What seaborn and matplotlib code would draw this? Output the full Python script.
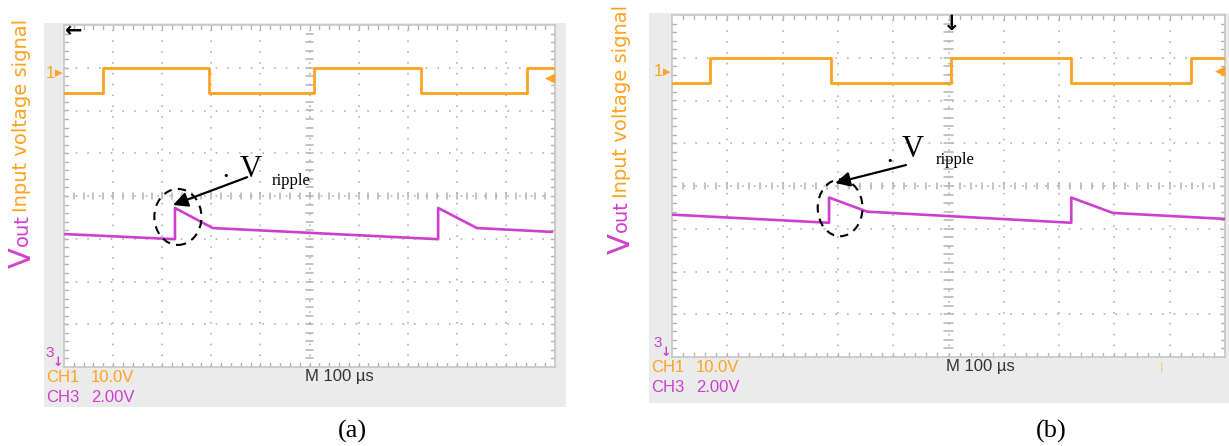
import numpy as np
import pandas as pd
import matplotlib
matplotlib.use("Agg")
import matplotlib.pyplot as plt
from matplotlib.patches import Rectangle, Ellipse
import seaborn as sns

# ---- captured waveforms, in graticule divisions (x: 0..10, y: 0..8) ----
ch1_levels = [6.4, 7.0]                      # low / high level of CH1 gate signal
ch1_edges_a = [0.79, 2.95, 5.09, 7.27, 9.43]  # switching instants, panel (a)
ch1_edges_b = [0.69, 2.88, 5.05, 7.22, 9.39]  # switching instants, panel (b)

ch3_t_a = [0.0, 2.26, 2.26, 3.03, 7.62, 7.62, 8.41, 9.94]
ch3_v_a = [3.11, 2.99, 3.72, 3.25, 2.99, 3.72, 3.25, 3.16]
ch3_t_b = [0.0, 2.84, 2.84, 3.53, 7.22, 7.22, 7.97, 10.0]
ch3_v_b = [3.33, 3.14, 3.73, 3.40, 3.14, 3.73, 3.37, 3.23]

panel_labels = ["(a)", "(b)"]
ch1_scale, ch3_scale, timebase = "10.0V", "2.00V", "M 100 \u00b5s"

ORANGE = "#ffa21f"
MAGENTA = "#cf3fcf"
GRID = "#b3b3b3"
BEZEL = "#ebebeb"
SYM = ["DejaVu Sans"]

W, H = 1229, 446


def fx(px):
    return px / W


def fy(py):
    return 1 - py / H


def square_wave(edges, levels, t_end=10.0):
    xs, ys, state = [0.0], [levels[0]], 0
    for e in edges:
        xs += [e, e]
        ys += [levels[state], levels[1 - state]]
        state = 1 - state
    xs.append(t_end)
    ys.append(levels[state])
    return pd.DataFrame({"t": xs, "v": ys})


sns.set_theme(style="white")
plt.rcParams["font.family"] = ["DejaVu Sans"]
fig = plt.figure(figsize=(W / 100, H / 100), dpi=100)

panels = [
    dict(box=(44, 23, 566, 407), screen=(64, 25, 555, 367),
         edges=ch1_edges_a, t=ch3_t_a, v=ch3_v_a,
         ell=(2.32, 3.51, 0.96, 1.31), arr=((3.73, 4.44), (2.22, 3.79)),
         dot=(3.29, 4.47), vtxt=(3.8, 4.62), rip=(4.24, 4.35),
         ylab_x=22, ylab_y=(268, 246, 212), one_y=73, right_y=78,
         top_mark=("left", 0.1), meas_x=305, lab_x=338, tick_x=None),
    dict(box=(649, 13, 1240, 403), screen=(672, 15, 1225, 357),
         edges=ch1_edges_b, t=ch3_t_b, v=ch3_v_b,
         ell=(3.04, 3.49, 0.81, 1.33), arr=((4.23, 4.49), (2.95, 4.07)),
         dot=(3.94, 4.58), vtxt=(4.36, 4.85), rip=(4.77, 4.6),
         ylab_x=621, ylab_y=(254, 232, 198), one_y=72, right_y=71,
         top_mark=("down", 5.05), meas_x=946, lab_x=1036, tick_x=1161),
]

for idx, p in enumerate(panels):
    bx0, by0, bx1, by1 = p["box"]
    fig.patches.append(Rectangle((fx(bx0), fy(by1)), fx(bx1) - fx(bx0), fy(by0) - fy(by1),
                                 transform=fig.transFigure, facecolor=BEZEL,
                                 edgecolor="none", zorder=-5))
    sx0, sy0, sx1, sy1 = p["screen"]
    ax = fig.add_axes([fx(sx0), fy(sy1), fx(sx1) - fx(sx0), fy(sy0) - fy(sy1)])
    ax.set_zorder(2)
    ax.set_facecolor("white")
    ax.set_xlim(0, 10)
    ax.set_ylim(0, 8)
    ax.set_xticks([])
    ax.set_yticks([])
    for s in ax.spines.values():
        s.set_color("#c6c6c6")
        s.set_linewidth(1.2)

    # graticule: dotted division lines
    for gx in range(1, 10):
        ax.axvline(gx, color=GRID, lw=1.2, dashes=(1.0, 5.5), zorder=1)
    for gy in range(1, 8):
        ax.axhline(gy, color=GRID, lw=1.2, dashes=(1.0, 6.0), zorder=1)
    # minor ticks along the borders and the centre cross
    for m in np.arange(0.2, 10, 0.2):
        ax.plot([m, m], [0, 0.1], color=GRID, lw=1, zorder=1)
        ax.plot([m, m], [8, 7.9], color=GRID, lw=1, zorder=1)
        ax.plot([m, m], [3.92, 4.08], color=GRID, lw=1.1, zorder=1)
    for m in np.arange(0.2, 8, 0.2):
        ax.plot([0, 0.08], [m, m], color=GRID, lw=1, zorder=1)
        ax.plot([10, 9.92], [m, m], color=GRID, lw=1, zorder=1)
        ax.plot([4.92, 5.08], [m, m], color=GRID, lw=1.1, zorder=1)

    # traces
    sq = square_wave(p["edges"], ch1_levels)
    sns.lineplot(data=sq, x="t", y="v", ax=ax, color=ORANGE, lw=2.0,
                 estimator=None, sort=False, zorder=3)
    rip = pd.DataFrame({"t": p["t"], "v": p["v"]})
    sns.lineplot(data=rip, x="t", y="v", ax=ax, color=MAGENTA, lw=1.9,
                 estimator=None, sort=False, zorder=3)
    ax.set_xlabel("")
    ax.set_ylabel("")

    # ripple annotation
    ex, ey, ew, eh = p["ell"]
    ax.add_patch(Ellipse((ex, ey), ew, eh, fill=False, edgecolor="black",
                         lw=1.5, linestyle=(0, (4, 3)), zorder=5))
    ax.annotate("", xy=p["arr"][1], xytext=p["arr"][0],
                arrowprops=dict(arrowstyle="-|>", color="black", lw=1.6,
                                mutation_scale=22, shrinkA=0, shrinkB=0), zorder=6)
    ax.text(*p["dot"], "\u2022", fontsize=8, color="black", ha="center", va="center",
            zorder=6, family=SYM)
    ax.text(*p["vtxt"], "V", fontsize=22, family="Liberation Serif", color="black",
            ha="center", va="center", zorder=6)
    ax.text(*p["rip"], "ripple", fontsize=12, family="Liberation Serif", color="black",
            ha="left", va="center", zorder=6)

    # channel / reference markers
    fig.text(fx(sx0 - 14), fy(p["one_y"]), "1", color=ORANGE, fontsize=12,
             ha="center", va="center", family="Liberation Sans")
    fig.text(fx(sx0 - 5), fy(p["one_y"]), "\u25b8", color=ORANGE, fontsize=11,
             ha="center", va="center", family=SYM)
    fig.text(fx(sx1 - 5), fy(p["right_y"]), "\u25c2", color=ORANGE, fontsize=15,
             ha="center", va="center", family=SYM)
    fig.text(fx(sx0 - 14), fy(sy1 - 14), "3", color=MAGENTA, fontsize=11,
             ha="center", va="center", family="Liberation Sans")
    fig.text(fx(sx0 - 6), fy(sy1 - 4), "\u2193", color=MAGENTA, fontsize=9,
             ha="center", va="center", family=SYM, weight="bold")
    kind, pos = p["top_mark"]
    if kind == "left":
        fig.text(fx(sx0 + 10), fy(sy0 + 6), "\u2190", color="black", fontsize=15,
                 ha="center", va="center", weight="bold", family=SYM)
    else:
        ax.text(pos, 7.78, "\u2193", color="black", fontsize=15, ha="center",
                va="center", weight="bold", family=SYM)

    # readout bar
    fig.text(fx(bx0 + 2), fy(sy1 + 10), "CH1", color=ORANGE, fontsize=12,
             ha="left", va="center", family="Liberation Sans")
    fig.text(fx(bx0 + 47), fy(sy1 + 10), ch1_scale, color=ORANGE, fontsize=12,
             ha="left", va="center", family="Liberation Sans")
    fig.text(fx(bx0 + 2), fy(sy1 + 30), "CH3", color=MAGENTA, fontsize=12,
             ha="left", va="center", family="Liberation Sans")
    fig.text(fx(bx0 + 47), fy(sy1 + 30), ch3_scale, color=MAGENTA, fontsize=12,
             ha="left", va="center", family="Liberation Sans")
    fig.text(fx(p["meas_x"]), fy(sy1 + 10), timebase, color="#333333", fontsize=12,
             ha="left", va="center", family="Liberation Sans")
    if p["tick_x"]:
        fig.text(fx(p["tick_x"]), fy(sy1 + 10), "|", color=ORANGE, fontsize=8,
                 ha="center", va="center", alpha=0.7)

    # vertical channel label
    lx = fx(p["ylab_x"])
    yv, yo, yi = p["ylab_y"]
    fig.text(lx, fy(yv), "V", color=MAGENTA, fontsize=22, rotation=90,
             ha="center", va="bottom")
    fig.text(lx, fy(yo), "out", color=MAGENTA, fontsize=14, rotation=90,
             ha="center", va="bottom")
    fig.text(lx, fy(yi), "Input voltage signal", color=ORANGE, fontsize=14,
             rotation=90, ha="center", va="bottom")

    # panel caption
    fig.text(fx(p["lab_x"]), fy(431), panel_labels[idx], fontsize=19,
             family="Liberation Serif", ha="left", va="center", color="black")

fig.savefig("out.png", dpi=100)
